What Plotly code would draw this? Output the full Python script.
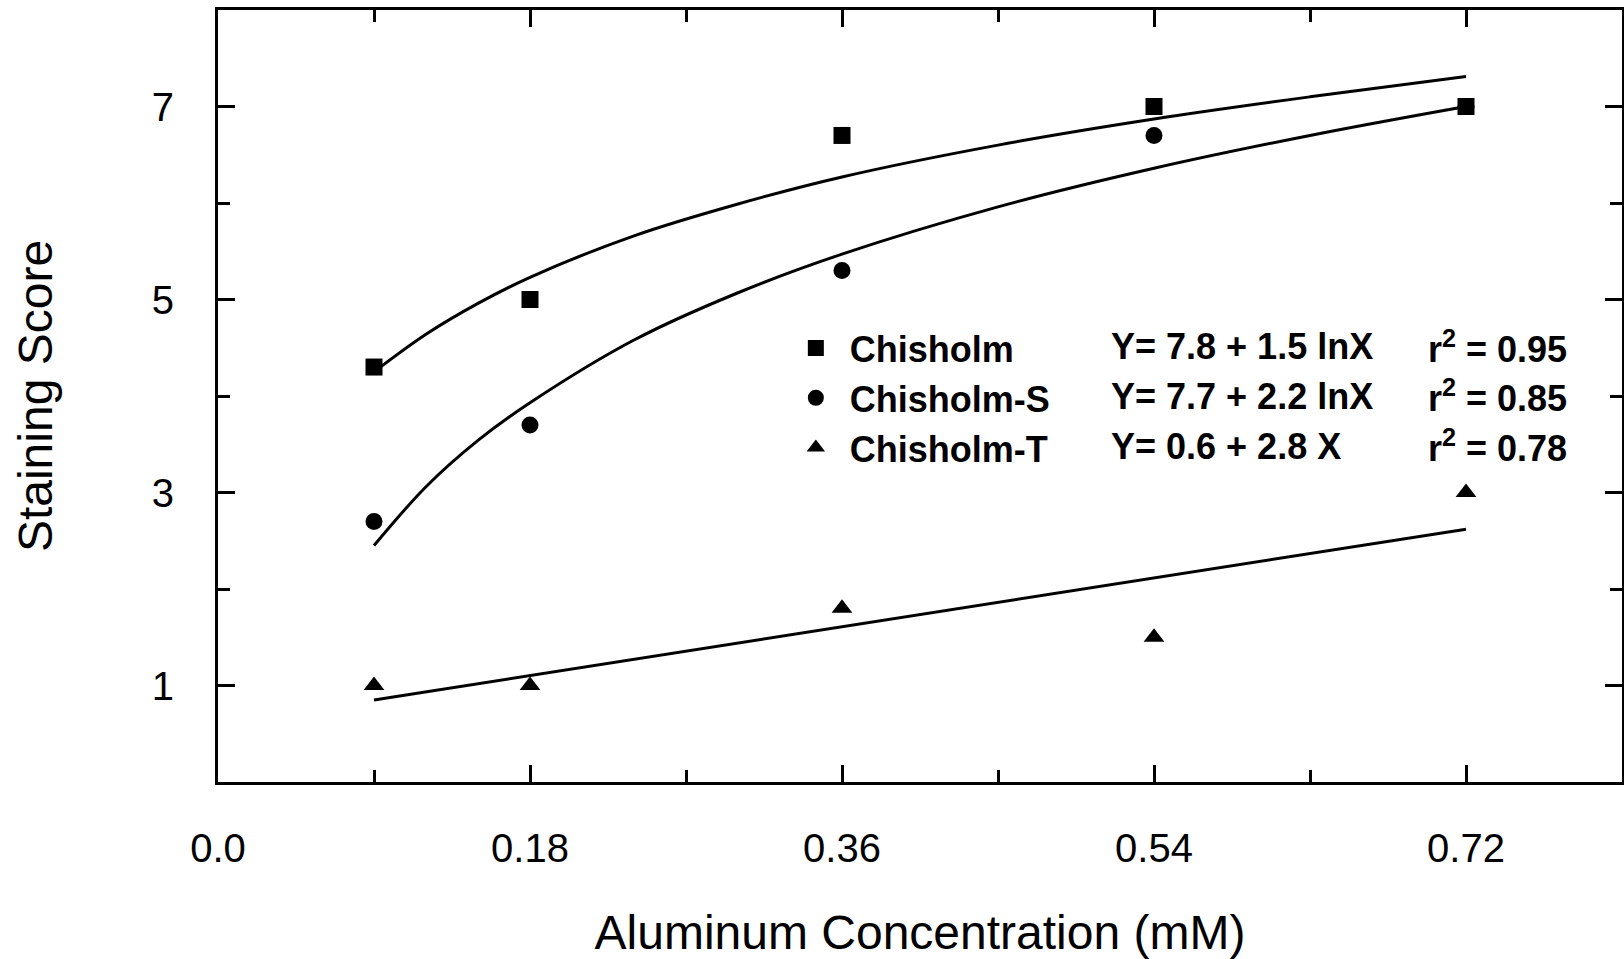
import plotly.graph_objects as go

# ---- data ----
conc = [0.09, 0.18, 0.36, 0.54, 0.72]
chisholm = [4.3, 5.0, 6.7, 7.0, 7.0]
chisholm_s = [2.7, 3.7, 5.3, 6.7, 7.0]
chisholm_t = [1.0, 1.0, 1.8, 1.5, 3.0]

fit_x = [0.09, 0.12, 0.15, 0.18, 0.24, 0.30, 0.36, 0.45, 0.54, 0.63, 0.72]
fit_chisholm = [4.25, 4.64, 4.96, 5.23, 5.66, 5.99, 6.27, 6.60, 6.87, 7.10, 7.31]
fit_chisholm_s = [2.45, 3.06, 3.54, 3.93, 4.58, 5.07, 5.47, 5.96, 6.36, 6.70, 7.00]
fit_t_x = [0.09, 0.72]
fit_chisholm_t = [0.85, 2.62]

x_tickvals = [0.0, 0.18, 0.36, 0.54, 0.72]
x_ticktext = ["0.0", "0.18", "0.36", "0.54", "0.72"]
x_minor = [0.09, 0.27, 0.45, 0.63]
y_tickvals = [1, 3, 5, 7]
y_minor = [2, 4, 6]

equations = ["Y= 7.8 + 1.5 lnX", "Y= 7.7 + 2.2 lnX", "Y= 0.6 + 2.8 X"]
r2_text = ["r<sup>2</sup> = 0.95", "r<sup>2</sup> = 0.85", "r<sup>2</sup> = 0.78"]

FONT = "Liberation Sans, Arial, sans-serif"

fig = go.Figure()

line_style = dict(color="black", width=3)
fig.add_trace(go.Scatter(x=fit_x, y=fit_chisholm, mode="lines", line=dict(shape="spline", **line_style),
                         showlegend=False, hoverinfo="skip"))
fig.add_trace(go.Scatter(x=fit_x, y=fit_chisholm_s, mode="lines", line=dict(shape="spline", **line_style),
                         showlegend=False, hoverinfo="skip"))
fig.add_trace(go.Scatter(x=fit_t_x, y=fit_chisholm_t, mode="lines", line=line_style,
                         showlegend=False, hoverinfo="skip"))

fig.add_trace(go.Scatter(x=conc, y=chisholm_s, mode="markers", name="Chisholm-S",
                         marker=dict(symbol="circle", size=17, color="black"), legendrank=2))
fig.add_trace(go.Scatter(x=conc, y=chisholm, mode="markers", name="Chisholm",
                         marker=dict(symbol="square", size=17, color="black"), legendrank=1))
fig.add_trace(go.Scatter(x=conc, y=chisholm_t, mode="markers", name="Chisholm-T",
                         marker=dict(symbol="triangle-up", size=18, color="black"), legendrank=3))

row_y = [0.5641, 0.4994, 0.4346]
for eq, r2, yy in zip(equations, r2_text, row_y):
    fig.add_annotation(xref="paper", yref="paper", x=0.6347, y=yy, text=eq, showarrow=False,
                       xanchor="left", yanchor="middle",
                       font=dict(family=FONT, size=36, color="black", weight="bold"))
    fig.add_annotation(xref="paper", yref="paper", x=0.8604, y=yy, text=r2, showarrow=False,
                       xanchor="left", yanchor="middle",
                       font=dict(family=FONT, size=36, color="black", weight="bold"))

axis_common = dict(showline=True, linecolor="black", linewidth=3, mirror="ticks",
                   ticks="inside", ticklen=17, tickwidth=2.5, tickcolor="black",
                   showgrid=False, zeroline=False,
                   tickfont=dict(family=FONT, size=40, color="black"))

fig.update_xaxes(range=[0, 0.81], tickmode="array", tickvals=x_tickvals, ticktext=x_ticktext,
                 minor=dict(tickmode="array", tickvals=x_minor, ticks="inside", ticklen=12,
                            tickwidth=2.5, tickcolor="black"),
                 ticklabelstandoff=29,
                 title=dict(text="Aluminum Concentration (mM)", standoff=47,
                            font=dict(family=FONT, size=48, color="black")),
                 **axis_common)
fig.update_yaxes(range=[0, 8], tickmode="array", tickvals=y_tickvals,
                 minor=dict(tickmode="array", tickvals=y_minor, ticks="inside", ticklen=12,
                            tickwidth=2.5, tickcolor="black"),
                 ticklabelstandoff=33,
                 title=dict(text="Staining Score", standoff=84,
                            font=dict(family=FONT, size=48, color="black")),
                 **axis_common)

fig.update_layout(
    width=1624, height=959,
    margin=dict(l=218, r=2, t=10, b=177, autoexpand=False),
    paper_bgcolor="white", plot_bgcolor="white",
    showlegend=True,
    legend=dict(x=0.4016, y=0.601, xanchor="left", yanchor="top",
                bgcolor="rgba(0,0,0,0)", borderwidth=0, itemwidth=58,
                itemsizing="trace", traceorder="normal",
                font=dict(family=FONT, size=36, color="black", weight="bold")),
)

fig.write_html("out.html")
